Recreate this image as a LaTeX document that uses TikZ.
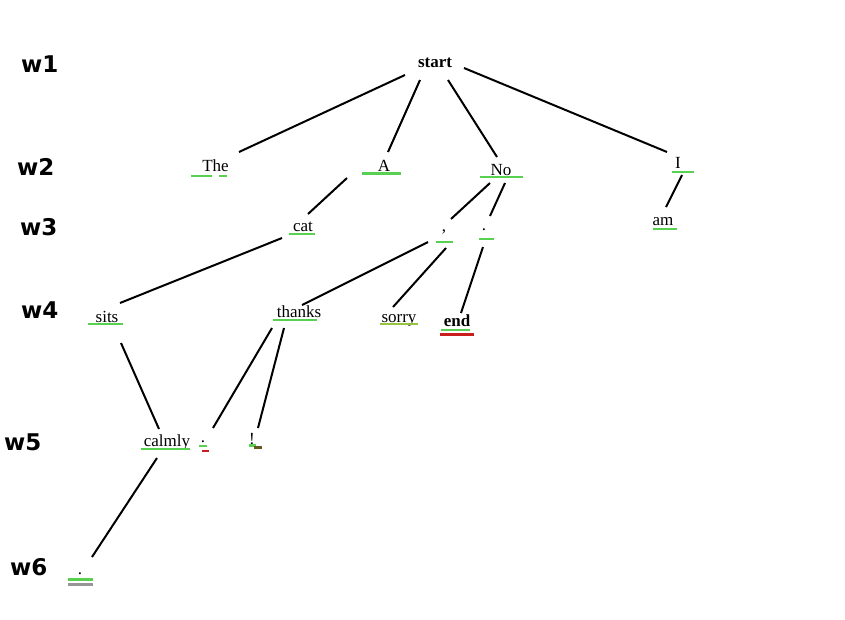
\documentclass[tikz,border=0pt]{standalone}
\usepackage{fontspec}
\setmainfont{Liberation Serif}
\newfontfamily\levelfont{DejaVu Sans}
\definecolor{ulgreen}{RGB}{88,208,80}
\definecolor{ulolive}{RGB}{150,196,60}
\definecolor{ulred}{RGB}{200,30,30}
\definecolor{uldark}{RGB}{100,90,30}
\definecolor{ulgray}{RGB}{150,150,150}
\tikzset{
  word/.style={anchor=base, inner sep=0pt, font=\fontsize{17}{19}\selectfont},
  bword/.style={word, font=\fontsize{17}{19}\selectfont\bfseries},
  level/.style={anchor=base west, inner sep=0pt, font=\levelfont\fontsize{23}{26}\selectfont\bfseries},
  link/.style={draw=black, line width=2pt},
  ul/.style={line width=2.2pt}
}
% underline bar under a word: node, x from, x to, y offset, colour
\newcommand\ulbar[5]{\draw[ul,#5] ([shift={(#2,#4)}]#1.base) -- ([shift={(#3,#4)}]#1.base);}
% connector between two words, each end shifted from the word's baseline
\newcommand\linkw[6]{\draw[link] ([shift={(#2,#3)}]#1.base) -- ([shift={(#5,#6)}]#4.base);}
\begin{document}
\begin{tikzpicture}[x=1pt,y=-1pt]
\useasboundingbox[fill=white] (0,0) rectangle (845,619);

% level labels
\node[level] (w1) at (21,72) {w1};
\node[level] (w2) at (17,175) {w2};
\node[level] (w3) at (20,235) {w3};
\node[level] (w4) at (21,318) {w4};
\node[level] (w5) at (4,450) {w5};
\node[level] (w6) at (10,575) {w6};

% words
\node[bword] (start) at (435,67) {start};
\node[word] (The) at (215.5,171) {The};
\node[word] (A) at (384,171) {A};
\node[word] (No) at (501,175) {No};
\node[word] (I) at (678,168) {I};
\node[word] (cat) at (303,231) {cat};
\node[word] (comma) at (444,231) {,};
\node[word] (stop) at (484,230) {.};
\node[word] (am) at (663,225) {am};
\node[word] (sits) at (107,322) {sits};
\node[word] (thanks) at (299,317) {thanks};
\node[word] (sorry) at (399,322) {sorry};
\node[bword] (end) at (457,326) {end};
\node[word] (calmly) at (167,446) {calmly};
\node[word] (stopB) at (203,442) {.};
\node[word] (bang) at (252,444) {!};
\node[word] (stopC) at (80,574) {.};

% underlines
\ulbar{The}{-25}{-4}{5}{ulgreen}
\ulbar{The}{3.5}{11}{5}{ulgreen}
\ulbar{A}{-22}{17}{2.5}{ulgreen}
\ulbar{No}{-21}{22}{2}{ulgreen}
\ulbar{I}{-6}{16}{4}{ulgreen}
\ulbar{cat}{-14}{12}{3}{ulgreen}
\ulbar{comma}{-8}{9}{11}{ulgreen}
\ulbar{stop}{-5}{10}{9}{ulgreen}
\ulbar{am}{-10}{14}{4}{ulgreen}
\ulbar{sits}{-19}{16}{2}{ulgreen}
\ulbar{thanks}{-26}{18}{3}{ulgreen}
\ulbar{sorry}{-19}{19}{2}{ulolive}
\ulbar{end}{-16}{13}{4}{ulgreen}
\ulbar{end}{-17}{17}{8.5}{ulred}
\ulbar{calmly}{-26}{23}{3}{ulgreen}
\ulbar{stopB}{-4}{4}{4}{ulgreen}
\ulbar{stopB}{-1.5}{6}{9}{ulred}
\ulbar{bang}{-3.5}{4}{1.5}{ulgreen}
\ulbar{bang}{1.5}{10}{3.5}{uldark}
\ulbar{stopC}{-12}{12.7}{5.5}{ulgreen}
\ulbar{stopC}{-12}{12.7}{10.5}{ulgray}

% connectors
\linkw{start}{-30}{8}{The}{23.5}{-19}
\linkw{start}{-15}{13}{A}{4}{-19}
\linkw{start}{13}{13}{No}{-4}{-18}
\linkw{start}{29}{1}{I}{-11}{-16}
\linkw{A}{-37}{7}{cat}{5}{-17}
\linkw{No}{-11}{8}{comma}{7}{-12}
\linkw{No}{4}{8}{stop}{6}{-14}
\linkw{I}{4}{7}{am}{3}{-18}
\linkw{cat}{-21}{7}{sits}{13}{-19}
\linkw{comma}{-16}{11}{thanks}{3}{-12}
\linkw{comma}{2}{17}{sorry}{-6}{-15}
\linkw{stop}{-1}{17}{end}{4}{-13}
\linkw{sits}{14}{21}{calmly}{-8}{-17}
\linkw{thanks}{-27}{11}{stopB}{10}{-14}
\linkw{thanks}{-15}{11}{bang}{6}{-16}
\linkw{calmly}{-10}{12}{stopC}{12}{-17}
\end{tikzpicture}
\end{document}
